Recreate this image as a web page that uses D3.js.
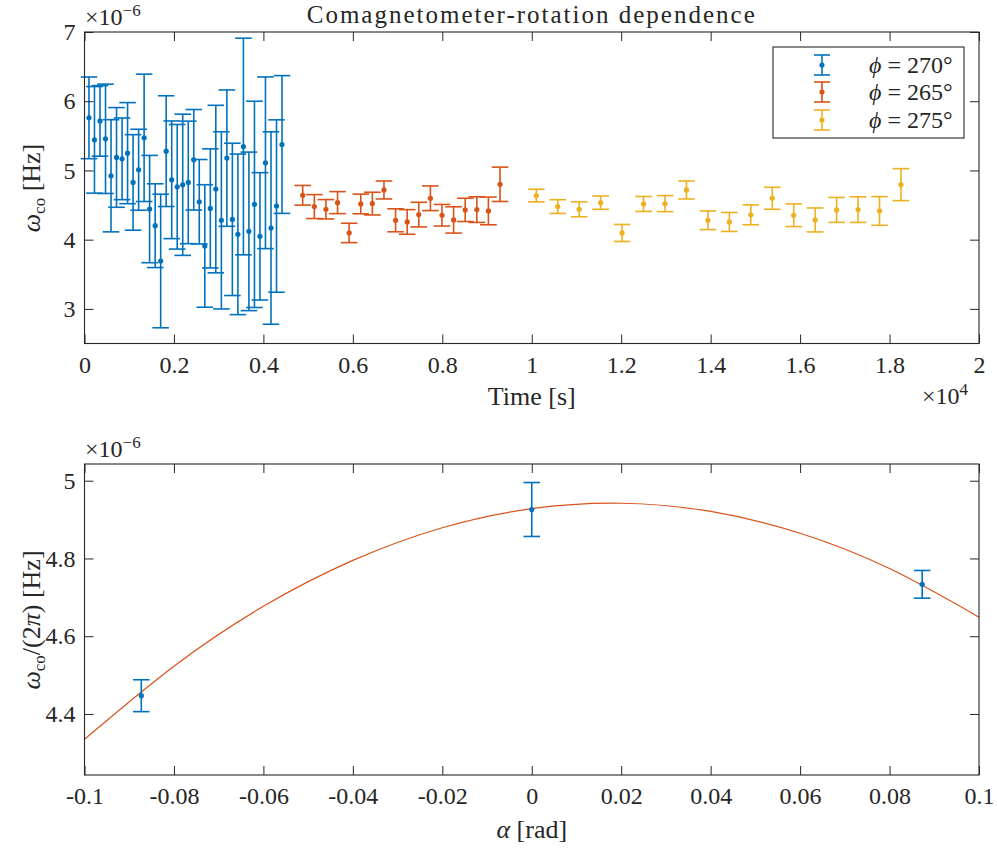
<!DOCTYPE html>
<html><head><meta charset="utf-8">
<script src="https://cdn.jsdelivr.net/npm/d3@7"></script>
<style>
body{margin:0;background:#fff;}
svg{display:block;}
</style></head>
<body>
<svg id="c" width="997" height="850"></svg>
<script>
// ---- Top panel data ----
const blueTime = [100,223,346,470,593,716,840,963,1086,1210,1333,1456,1580,1703,1826,1950,2073,2196,2320,2443,2566,2690,2813,2936,3060,3183,3306,3430,3553,3676,3800,3923,4046,4170,4293,4416];
const blueVal = [5.760,5.442,5.716,5.457,4.923,5.188,5.168,5.250,4.827,5.010,5.471,4.442,4.202,3.692,5.279,4.865,4.764,4.793,4.827,5.154,4.548,3.909,4.452,4.731,4.279,5.178,4.293,4.077,5.346,4.120,4.510,4.048,5.111,4.168,4.486,5.375];
const blueErr = [0.59,0.77,0.51,0.79,0.81,0.72,0.59,0.73,0.69,0.585,0.92,0.775,0.605,0.965,0.80,0.85,0.90,1.02,0.885,0.726,0.61,0.885,0.86,1.21,1.28,0.985,1.10,1.16,1.565,1.145,1.49,0.92,1.24,1.39,1.245,0.995];

const redTime = [4879,5139,5398,5658,5917,6177,6436,6696,6955,7215,7474,7734,7993,8253,8512,8772,9031,9291];
const redVal = [4.641,4.478,4.439,4.535,4.097,4.516,4.521,4.718,4.280,4.256,4.362,4.598,4.353,4.285,4.430,4.434,4.415,4.800];
const redErr = [0.142,0.173,0.14,0.159,0.14,0.142,0.164,0.13,0.166,0.178,0.178,0.178,0.156,0.19,0.168,0.185,0.2,0.248];

const yellowTime = [10102,10582,11061,11541,12020,12500,12980,13459,13939,14418,14898,15378,15857,16337,16816,17296,17776,18255];
const yellowVal = [4.637,4.478,4.439,4.535,4.097,4.516,4.521,4.718,4.280,4.256,4.359,4.598,4.353,4.285,4.430,4.434,4.415,4.795];
const yellowErr = [0.091,0.099,0.108,0.096,0.123,0.108,0.116,0.13,0.135,0.137,0.144,0.159,0.164,0.173,0.18,0.185,0.207,0.231];

const seriesNames = ["ϕ = 270°","ϕ = 265°","ϕ = 275°"];
const topXTicks = [0,2000,4000,6000,8000,10000,12000,14000,16000,18000,20000];
const topXTickLabels = ["0","0.2","0.4","0.6","0.8","1","1.2","1.4","1.6","1.8","2"];
const topYTicks = [3,4,5,6,7];

// ---- Bottom panel data ----
const alphaVal = [-0.0873,0,0.0873];
const omegaVal = [4.447,4.926,4.7335];
const omegaErr = [0.041,0.0694,0.0356];
const fitAlpha = [-0.1,-0.08,-0.06,-0.04,-0.02,0,0.02,0.04,0.06,0.08,0.1];
const fitOmega = [4.335,4.523,4.677,4.795,4.879,4.928,4.942,4.921,4.865,4.774,4.649];
const botXTicks = [-0.1,-0.08,-0.06,-0.04,-0.02,0,0.02,0.04,0.06,0.08,0.1];
const botXTickLabels = ["-0.1","-0.08","-0.06","-0.04","-0.02","0","0.02","0.04","0.06","0.08","0.1"];
const botYTicks = [4.4,4.6,4.8,5];

const colors = ["#0072BD","#D95319","#EDB120"];
const axisCol = "#262626";
const FONT = '"Liberation Serif", "Times New Roman", serif';
const svg = d3.select("#c");
const L = 84.5, R = 979;
const FS = 24;     // tick labels
const LFS = 26;    // axis labels
const TFS = 25;    // title
const SUB = 17;

function frame(g, x, y, top, bottom, xt, xtl, yt, ytl) {
  const ax = g.append("g").attr("transform",`translate(0,${bottom})`)
    .call(d3.axisBottom(x).tickValues(xt).tickFormat((d,i)=>xtl[i]).tickSizeInner(-9).tickSizeOuter(0).tickPadding(12));
  const at = g.append("g").attr("transform",`translate(0,${top})`)
    .call(d3.axisTop(x).tickValues(xt).tickFormat("").tickSizeInner(-9).tickSizeOuter(0));
  const al = g.append("g").attr("transform",`translate(${L},0)`)
    .call(d3.axisLeft(y).tickValues(yt).tickFormat((d,i)=>ytl[i]).tickSizeInner(-9).tickSizeOuter(0).tickPadding(9));
  const ar = g.append("g").attr("transform",`translate(${R},0)`)
    .call(d3.axisRight(y).tickValues(yt).tickFormat("").tickSizeInner(-9).tickSizeOuter(0));
  [ax,at,al,ar].forEach(a=>{
    a.attr("font-family",null).attr("font-size",null);
    a.select(".domain").remove();
    a.selectAll("line").attr("stroke",axisCol).attr("stroke-width",1);
    a.selectAll("text").filter(function(){return this.textContent==="";}).remove();
    a.selectAll("text").style("font-size",FS+"px").attr("fill",axisCol);
  });
  g.append("rect").attr("x",L).attr("y",top).attr("width",R-L).attr("height",bottom-top)
    .attr("fill","none").attr("stroke",axisCol).attr("stroke-width",1.1);
}

function errorbars(g, xs, ys, es, x, y, col, cap) {
  const grp = g.append("g");
  xs.forEach((t,i)=>{
    const cx = x(t), y1 = y(ys[i]+es[i]), y2 = y(ys[i]-es[i]);
    grp.append("line").attr("x1",cx).attr("x2",cx).attr("y1",y1).attr("y2",y2).attr("stroke",col).attr("stroke-width",1.6);
    grp.append("line").attr("x1",cx-cap).attr("x2",cx+cap).attr("y1",y1).attr("y2",y1).attr("stroke",col).attr("stroke-width",1.6);
    grp.append("line").attr("x1",cx-cap).attr("x2",cx+cap).attr("y1",y2).attr("y2",y2).attr("stroke",col).attr("stroke-width",1.6);
    grp.append("circle").attr("cx",cx).attr("cy",y(ys[i])).attr("r",2.6).attr("fill",col);
  });
}

function txt(g, x, y, size) {
  return g.append("text").attr("x",x).attr("y",y).style("font-size",size+"px").attr("fill",axisCol);
}

function sci(g, x, y, exp) {
  const t = txt(g, x, y, FS);
  t.append("tspan").text("×10");
  t.append("tspan").attr("dy",-9).style("font-size",SUB+"px").text(exp);
}

// ---- Top panel ----
const gTop = svg.append("g");
const xT = d3.scaleLinear().domain([0,20000]).range([L,R]);
const yT = d3.scaleLinear().domain([2.5,7]).range([343.5,32]);
errorbars(gTop, blueTime, blueVal, blueErr, xT, yT, colors[0], 8.3);
errorbars(gTop, redTime, redVal, redErr, xT, yT, colors[1], 8.3);
errorbars(gTop, yellowTime, yellowVal, yellowErr, xT, yT, colors[2], 8.3);
frame(gTop, xT, yT, 32, 343.5, topXTicks, topXTickLabels, topYTicks, topYTicks.map(String));

txt(gTop,(L+R)/2,23,TFS).attr("text-anchor","middle").style("letter-spacing","2px").text("Comagnetometer-rotation dependence");
sci(gTop, 85, 25, "−6");
sci(gTop, 922, 404, "4");
txt(gTop,(L+R)/2,405,LFS).attr("text-anchor","middle").text("Time [s]");
{
  const t = gTop.append("text").attr("transform","translate(40,188) rotate(-90)").attr("text-anchor","middle").style("font-size",LFS+"px").attr("fill",axisCol);
  t.append("tspan").attr("font-style","italic").text("ω");
  t.append("tspan").attr("dy",5).style("font-size",SUB+"px").text("co");
  t.append("tspan").attr("dy",-5).text(" [Hz]");
}
// legend
{
  const lg = gTop.append("g");
  lg.append("rect").attr("x",773).attr("y",47).attr("width",191).attr("height",91).attr("fill","#fff").attr("stroke",axisCol).attr("stroke-width",1.1);
  const rows = [65,92,120];
  rows.forEach((ry,i)=>{
    const sx = 822, c = colors[i];
    lg.append("line").attr("x1",sx).attr("x2",sx).attr("y1",ry-10).attr("y2",ry+10).attr("stroke",c).attr("stroke-width",1.6);
    lg.append("line").attr("x1",sx-8).attr("x2",sx+8).attr("y1",ry-10).attr("y2",ry-10).attr("stroke",c).attr("stroke-width",1.6);
    lg.append("line").attr("x1",sx-8).attr("x2",sx+8).attr("y1",ry+10).attr("y2",ry+10).attr("stroke",c).attr("stroke-width",1.6);
    lg.append("circle").attr("cx",sx).attr("cy",ry).attr("r",2.6).attr("fill",c);
    const parts = seriesNames[i].split(" = ");
    const t = txt(lg, 869, ry+8, FS);
    t.append("tspan").attr("font-style","italic").text(parts[0]);
    t.append("tspan").text(" = " + parts[1]);
  });
}

// ---- Bottom panel ----
const gBot = svg.append("g");
const xB = d3.scaleLinear().domain([-0.1,0.1]).range([L,R]);
const yB = d3.scaleLinear().domain([4.243,5.043]).range([775,464]);
const line = d3.line().x((d,i)=>xB(fitAlpha[i])).y(d=>yB(d)).curve(d3.curveNatural);
gBot.append("path").attr("d",line(fitOmega)).attr("fill","none").attr("stroke",colors[1]).attr("stroke-width",1.2);
errorbars(gBot, alphaVal, omegaVal, omegaErr, xB, yB, colors[0], 8.3);
frame(gBot, xB, yB, 464, 775, botXTicks, botXTickLabels, botYTicks, botYTicks.map(d=>d===5?"5":d.toFixed(1)));
sci(gBot, 85, 457, "−6");
{
  const t = txt(gBot,(L+R)/2,838,LFS).attr("text-anchor","middle");
  t.append("tspan").attr("font-style","italic").text("α");
  t.append("tspan").text(" [rad]");
}
{
  const t = gBot.append("text").attr("transform","translate(40,620) rotate(-90)").attr("text-anchor","middle").style("font-size",LFS+"px").attr("fill",axisCol);
  t.append("tspan").attr("font-style","italic").text("ω");
  t.append("tspan").attr("dy",5).style("font-size",SUB+"px").text("co");
  t.append("tspan").attr("dy",-5).text("/(2");
  t.append("tspan").attr("font-style","italic").text("π");
  t.append("tspan").text(") [Hz]");
}
svg.selectAll("text").style("font-family", FONT);
</script>
</body></html>
